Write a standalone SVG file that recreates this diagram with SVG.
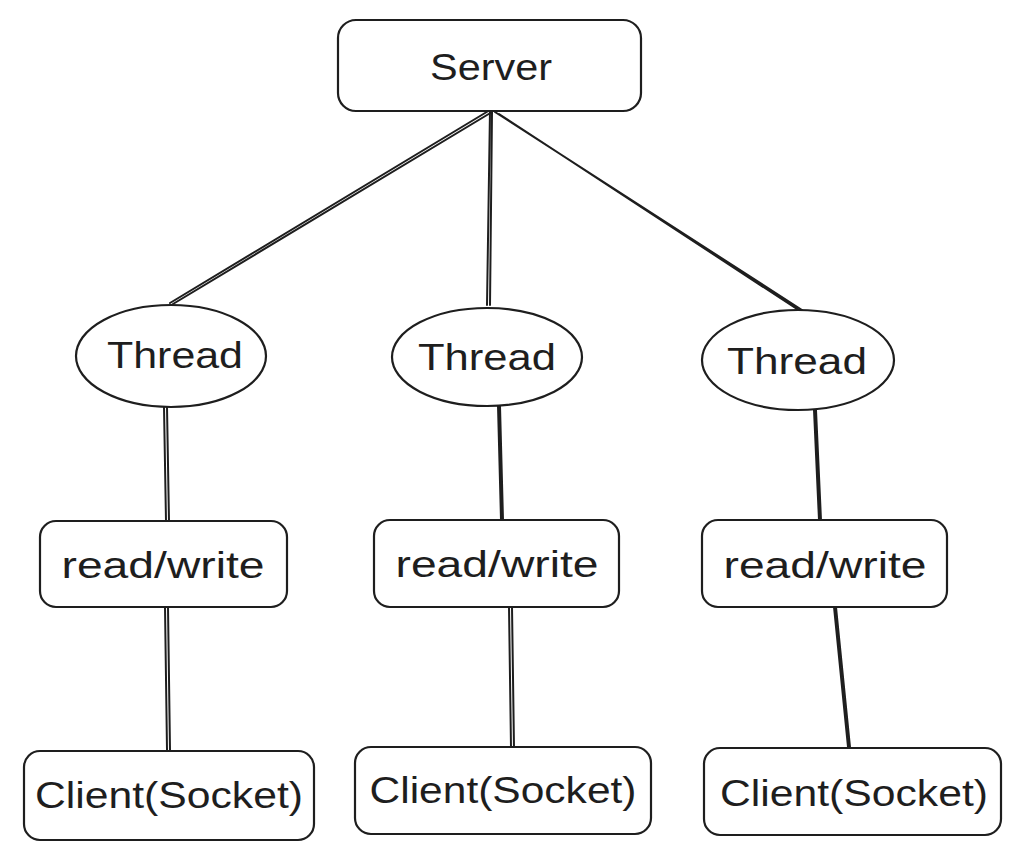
<svg xmlns="http://www.w3.org/2000/svg" width="1022" height="858" viewBox="0 0 1022 858">
<style>
.box{fill:#fff;stroke:#1e1e1e;stroke-width:2.2}
.ln{fill:none;stroke:#1e1e1e;stroke-width:2;stroke-linecap:round}
.t{font-family:"Liberation Sans","DejaVu Sans",sans-serif;font-size:36px;fill:#1e1e1e;text-anchor:middle}
</style>
<rect width="1022" height="858" fill="#fff"/>
<g id="connectors">
<path class="ln" d="M490 110 L170 303 M492 112 L173 304"/>
<path class="ln" d="M490 110 L487 305 M492 112 L490 305"/>
<path class="ln" d="M495 112 L802 310 M499 114 L800 311"/>
<path class="ln" d="M164 407 L166 521 M167 407 L169 521"/>
<path class="ln" d="M165 607 L167 750 M168 607 L170 750"/>
<path class="ln" d="M498 406 L501 520 M500 406 L503 520"/>
<path class="ln" d="M509 607 L511 748 M512 607 L514 748"/>
<path class="ln" d="M814 410 L819 520 M816 410 L821 520"/>
<path class="ln" d="M834 607 L849 757 M836 607 L851 757"/>
</g>
<g id="server">
<rect class="box" x="338" y="20" width="303" height="91" rx="18"/>
<text class="t" x="491" y="80" textLength="122" lengthAdjust="spacingAndGlyphs">Server</text>
</g>
<g id="thread1">
<ellipse class="box" cx="171" cy="356" rx="95" ry="51"/>
<text class="t" x="175" y="368" textLength="136" lengthAdjust="spacingAndGlyphs">Thread</text>
</g>
<g id="thread2">
<ellipse class="box" cx="487" cy="357" rx="95" ry="49"/>
<text class="t" x="487" y="370" textLength="138" lengthAdjust="spacingAndGlyphs">Thread</text>
</g>
<g id="thread3">
<ellipse class="box" cx="798" cy="360" rx="96" ry="50"/>
<text class="t" x="797" y="374" textLength="140" lengthAdjust="spacingAndGlyphs">Thread</text>
</g>
<g id="rw1">
<rect class="box" x="40" y="521" width="247" height="86" rx="16"/>
<text class="t" x="163" y="578" textLength="203" lengthAdjust="spacingAndGlyphs">read/write</text>
</g>
<g id="rw2">
<rect class="box" x="374" y="520" width="245" height="87" rx="16"/>
<text class="t" x="497" y="577" textLength="203" lengthAdjust="spacingAndGlyphs">read/write</text>
</g>
<g id="rw3">
<rect class="box" x="702" y="520" width="245" height="87" rx="16"/>
<text class="t" x="825" y="578" textLength="203" lengthAdjust="spacingAndGlyphs">read/write</text>
</g>
<g id="client1">
<rect class="box" x="24" y="751" width="290" height="89" rx="16"/>
<text class="t" x="169" y="808" textLength="268" lengthAdjust="spacingAndGlyphs">Client(Socket)</text>
</g>
<g id="client2">
<rect class="box" x="355" y="747" width="296" height="87" rx="16"/>
<text class="t" x="503" y="803" textLength="267" lengthAdjust="spacingAndGlyphs">Client(Socket)</text>
</g>
<g id="client3">
<rect class="box" x="704" y="748" width="297" height="87" rx="16"/>
<text class="t" x="854" y="806" textLength="268" lengthAdjust="spacingAndGlyphs">Client(Socket)</text>
</g>
</svg>
